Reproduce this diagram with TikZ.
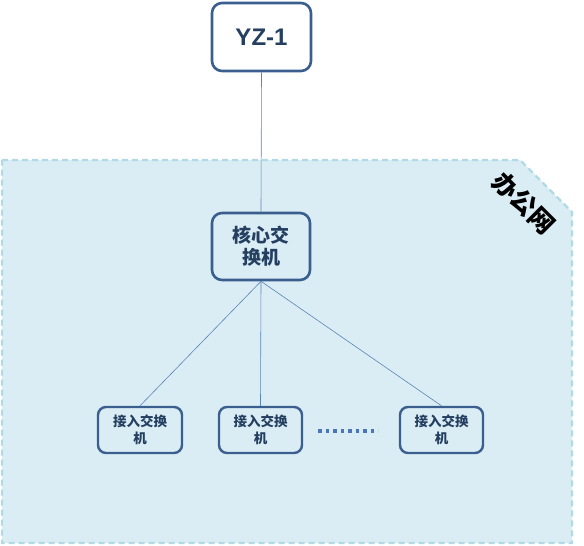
\documentclass[tikz,border=0pt]{standalone}
\usepackage{fontspec}
\setmainfont{Liberation Sans}
\newfontfamily\cjk{Noto Sans CJK SC}
\definecolor{regfill}{HTML}{DAEDF4}
\definecolor{regdash}{HTML}{B2D9E6}
\definecolor{boxline}{HTML}{3A5F8F}
\definecolor{txt}{HTML}{243F60}
\definecolor{conn}{HTML}{5B84B8}
\definecolor{dots}{HTML}{4A76B8}
\begin{document}
\begin{tikzpicture}[x=1pt,y=-1pt,
  box/.style={draw=boxline,line width=2.6pt,rounded corners=10pt,fill=white,align=center,text=txt,inner sep=0pt},
  smallbox/.style={draw=boxline,line width=2.4pt,rounded corners=8pt,fill=regfill,align=center,text=txt,font=\cjk\bfseries\fontsize{13.5}{17}\selectfont,inner sep=0pt,minimum width=83pt,minimum height=46pt},
  conn/.style={draw=conn,line width=0.6pt}]
\useasboundingbox (0,0) rectangle (584,546);
\draw[regdash,fill=regfill,line width=2.2pt,dash pattern=on 6pt off 4pt]
  (2,160) -- (520,160) -- (572,212) -- (572,543) -- (2,543) -- cycle;
\node[rotate=-45,font=\cjk\bfseries\fontsize{25}{27}\selectfont,inner sep=0pt] (lbl) at (524,203) {办公网};
\node[box,minimum width=99pt,minimum height=68pt,fill=white,font=\bfseries\fontsize{24}{28}\selectfont] (yz) at (261.5,37) {YZ-1};
\node[box,minimum width=98pt,minimum height=67pt,fill=regfill,font=\cjk\bfseries\fontsize{19}{22}\selectfont] (core) at (261,246.5) {核心交\\换机};
\node[smallbox,minimum width=84pt] (a1) at (140,430) {接入交换\\机};
\node[smallbox] (a2) at (260.5,430) {接入交换\\机};
\node[smallbox] (a3) at (441.5,430) {接入交换\\机};
\coordinate (d1) at (318,431);
\coordinate (d2) at (378,431);
\draw[dots,line width=3.5pt,dash pattern=on 3.5pt off 4pt] (d1) -- (d2);
\draw[conn] (yz.south) -- (core.north);
\draw[conn] (core.south) -- (a1.north);
\draw[conn] (core.south) -- (a2.north);
\draw[conn] (core.south) -- (a3.north);
\end{tikzpicture}
\end{document}
